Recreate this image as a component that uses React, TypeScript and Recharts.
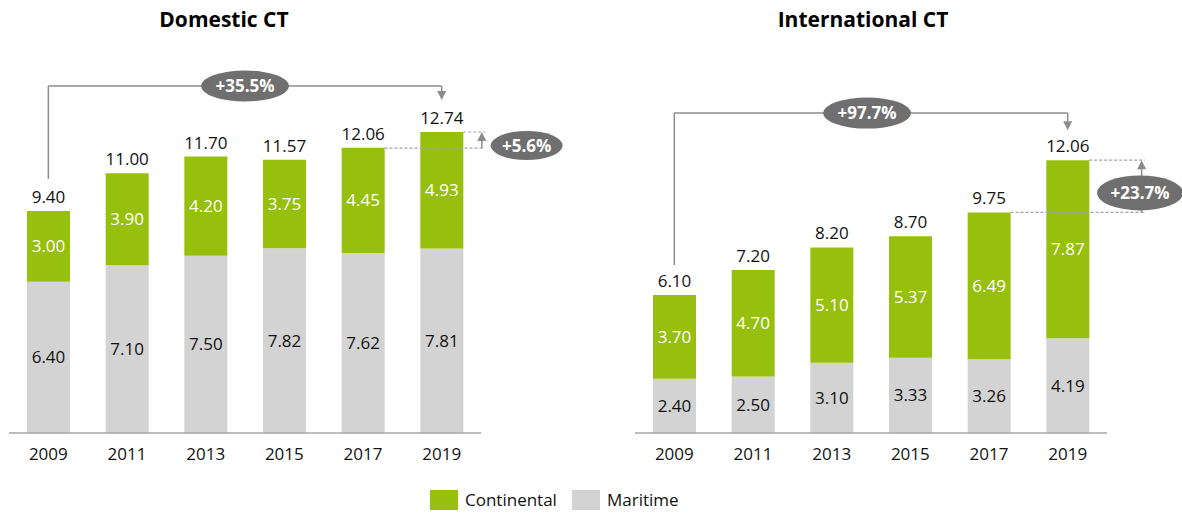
import React from 'react';
import { BarChart, Bar, XAxis, YAxis, LabelList, ReferenceLine, ReferenceDot } from 'recharts';

const years = ['2009', '2011', '2013', '2015', '2017', '2019'];

const domesticMaritime = [6.4, 7.1, 7.5, 7.82, 7.62, 7.81];
const domesticContinental = [3.0, 3.9, 4.2, 3.75, 4.45, 4.93];
const domesticTotal = [9.4, 11.0, 11.7, 11.57, 12.06, 12.74];
const domesticGrowth = ['+35.5%', '+5.6%'];

const internationalMaritime = [2.4, 2.5, 3.1, 3.33, 3.26, 4.19];
const internationalContinental = [3.7, 4.7, 5.1, 5.37, 6.49, 7.87];
const internationalTotal = [6.1, 7.2, 8.2, 8.7, 9.75, 12.06];
const internationalGrowth = ['+97.7%', '+23.7%'];

const GREEN = '#97bf0d';
const GREY = '#d3d3d3';
const BUBBLE = '#6f6f6f';
const LINE = '#8c8c8c';
const DASH = '#a3a3a3';
const FONT = '"Open Sans", "Noto Sans", sans-serif';
const BAR_SIZE = 43;
const CHART_W = 591;
const CHART_H = 513;
const Y_MAX = 16;

const fmt = (v: any) => Number(v).toFixed(2);

const arrowShape = (head: boolean, dashed = false) => (p: any) => {
  const { x1, y1, x2, y2 } = p;
  const dx = x2 - x1;
  const dy = y2 - y1;
  const len = Math.hypot(dx, dy) || 1;
  const ux = dx / len;
  const uy = dy / len;
  const hl = 9;
  const hw = 4.5;
  const bx = x2 - ux * hl;
  const by = y2 - uy * hl;
  return (
    <g>
      <line
        x1={x1}
        y1={y1}
        x2={head ? bx : x2}
        y2={head ? by : y2}
        stroke={dashed ? DASH : LINE}
        strokeWidth={dashed ? 1.2 : 1.5}
        strokeDasharray={dashed ? '3 2' : undefined}
      />
      {head && (
        <polygon
          points={`${x2},${y2} ${bx - uy * hw},${by + ux * hw} ${bx + uy * hw},${by - ux * hw}`}
          fill={LINE}
        />
      )}
    </g>
  );
};

const bubbleShape = (text: string, w: number, h: number) => (p: any) => (
  <g>
    <ellipse cx={p.cx} cy={p.cy} rx={w / 2} ry={h / 2} fill={BUBBLE} />
    <text
      x={p.cx}
      y={p.cy}
      dy="0.36em"
      textAnchor="middle"
      fill="#fff"
      fontFamily={FONT}
      fontWeight={700}
      fontSize={17}
    >
      {text}
    </text>
  </g>
);

interface PanelProps {
  maritime: number[];
  continental: number[];
  total: number[];
  growth: string[];
  margin: { top: number; right: number; bottom: number; left: number };
  bracketY: number;
  gapPx: number;
  longBubble: { x: number; w: number; h: number };
  smallBubble: { x: number; y: number; w: number; h: number };
  dashEnd: number;
  arrowX: number;
}

const Panel: React.FC<PanelProps> = ({
  maritime,
  continental,
  total,
  growth,
  margin,
  bracketY,
  gapPx,
  longBubble,
  smallBubble,
  dashEnd,
  arrowX,
}) => {
  const data = years.map((year, i) => ({
    year,
    pos: i,
    maritime: maritime[i],
    continental: continental[i],
    total: total[i],
  }));
  const last = years.length - 1;
  const plotW = CHART_W - margin.left - margin.right;
  const plotH = CHART_H - margin.top - margin.bottom - 30;
  const band = plotW / years.length;
  const halfBar = BAR_SIZE / 2 / band;
  const gap = (gapPx / plotH) * Y_MAX;

  return (
    <BarChart width={CHART_W} height={CHART_H} data={data} margin={margin} style={{ overflow: 'visible' }}>
      <XAxis
        dataKey="year"
        height={30}
        axisLine={{ stroke: '#a6a6a6', strokeWidth: 1.5 }}
        tickLine={false}
        tickMargin={9}
        tick={{ fill: '#111', fontSize: 17, fontFamily: FONT }}
        interval={0}
      />
      {/* hidden index axis: band centres sit at 0..5, used for the annotations */}
      <XAxis
        xAxisId="num"
        dataKey="pos"
        type="number"
        domain={['dataMin', 'dataMax']}
        padding={{ left: band / 2, right: band / 2 }}
        hide
      />
      <YAxis domain={[0, Y_MAX]} allowDataOverflow hide />
      <Bar dataKey="maritime" stackId="a" fill={GREY} barSize={BAR_SIZE} isAnimationActive={false}>
        <LabelList dataKey="maritime" position="center" formatter={fmt} fill="#111" fontSize={17} fontFamily={FONT} />
      </Bar>
      <Bar dataKey="continental" stackId="a" fill={GREEN} barSize={BAR_SIZE} isAnimationActive={false}>
        <LabelList dataKey="continental" position="center" formatter={fmt} fill="#fff" fontSize={17} fontFamily={FONT} />
        <LabelList dataKey="total" position="top" offset={8} formatter={fmt} fill="#111" fontSize={17} fontFamily={FONT} />
      </Bar>

      {/* long-term bracket */}
      <ReferenceLine
        xAxisId="num"
        ifOverflow="visible"
        segment={[{ x: 0, y: total[0] + gap }, { x: 0, y: bracketY }]}
        shape={arrowShape(false)}
      />
      <ReferenceLine
        xAxisId="num"
        ifOverflow="visible"
        segment={[{ x: 0, y: bracketY }, { x: last, y: bracketY }]}
        shape={arrowShape(false)}
      />
      <ReferenceLine
        xAxisId="num"
        ifOverflow="visible"
        segment={[{ x: last, y: bracketY }, { x: last, y: total[last] + gap }]}
        shape={arrowShape(true)}
      />

      {/* last-period growth */}
      <ReferenceLine
        xAxisId="num"
        ifOverflow="visible"
        segment={[{ x: last - 1 + halfBar, y: total[last - 1] }, { x: dashEnd, y: total[last - 1] }]}
        shape={arrowShape(false, true)}
      />
      <ReferenceLine
        xAxisId="num"
        ifOverflow="visible"
        segment={[{ x: last + halfBar, y: total[last] }, { x: dashEnd, y: total[last] }]}
        shape={arrowShape(false, true)}
      />
      <ReferenceLine
        xAxisId="num"
        ifOverflow="visible"
        segment={[{ x: arrowX, y: total[last - 1] }, { x: arrowX, y: total[last] }]}
        shape={arrowShape(true)}
      />

      <ReferenceDot
        xAxisId="num"
        x={longBubble.x}
        y={bracketY}
        ifOverflow="visible"
        shape={bubbleShape(growth[0], longBubble.w, longBubble.h)}
      />
      <ReferenceDot
        xAxisId="num"
        x={smallBubble.x}
        y={smallBubble.y}
        ifOverflow="visible"
        shape={bubbleShape(growth[1], smallBubble.w, smallBubble.h)}
      />
    </BarChart>
  );
};

const titleStyle: React.CSSProperties = {
  position: 'absolute',
  top: 9,
  width: 300,
  textAlign: 'center',
  fontFamily: FONT,
  fontWeight: 700,
  fontSize: 21,
  lineHeight: '21px',
  color: '#000',
};

const legendText: React.CSSProperties = {
  position: 'absolute',
  top: 490,
  fontFamily: FONT,
  fontSize: 17,
  lineHeight: '20px',
  color: '#111',
};

export default function App() {
  return (
    <div style={{ position: 'absolute', left: 0, top: 0, width: 1182, height: 513, background: '#fff', overflow: 'hidden' }}>
      <div style={{ ...titleStyle, left: 224 - 150 }}>Domestic CT</div>
      <div style={{ ...titleStyle, left: 863 - 150 }}>International CT</div>

      <div style={{ position: 'absolute', left: 0, top: 0 }}>
        <Panel
          maritime={domesticMaritime}
          continental={domesticContinental}
          total={domesticTotal}
          growth={domesticGrowth}
          margin={{ top: 55, right: 110, bottom: 50, left: 9 }}
          bracketY={14.69}
          gapPx={32}
          longBubble={{ x: 2.5, w: 88, h: 31 }}
          smallBubble={{ x: 6.08, y: 12.17, w: 72, h: 29 }}
          dashEnd={5.55}
          arrowX={5.51}
        />
      </div>
      <div style={{ position: 'absolute', left: CHART_W, top: 0 }}>
        <Panel
          maritime={internationalMaritime}
          continental={internationalContinental}
          total={internationalTotal}
          growth={internationalGrowth}
          margin={{ top: 71, right: 75, bottom: 50, left: 44 }}
          bracketY={14.14}
          gapPx={30}
          longBubble={{ x: 2.45, w: 88, h: 31 }}
          smallBubble={{ x: 5.92, y: 10.61, w: 86, h: 35 }}
          dashEnd={5.98}
          arrowX={5.94}
        />
      </div>

      <div style={{ position: 'absolute', left: 430, top: 490, width: 28, height: 20, background: GREEN }} />
      <div style={{ ...legendText, left: 465 }}>Continental</div>
      <div style={{ position: 'absolute', left: 572, top: 490, width: 28, height: 20, background: GREY }} />
      <div style={{ ...legendText, left: 607 }}>Maritime</div>
    </div>
  );
}
